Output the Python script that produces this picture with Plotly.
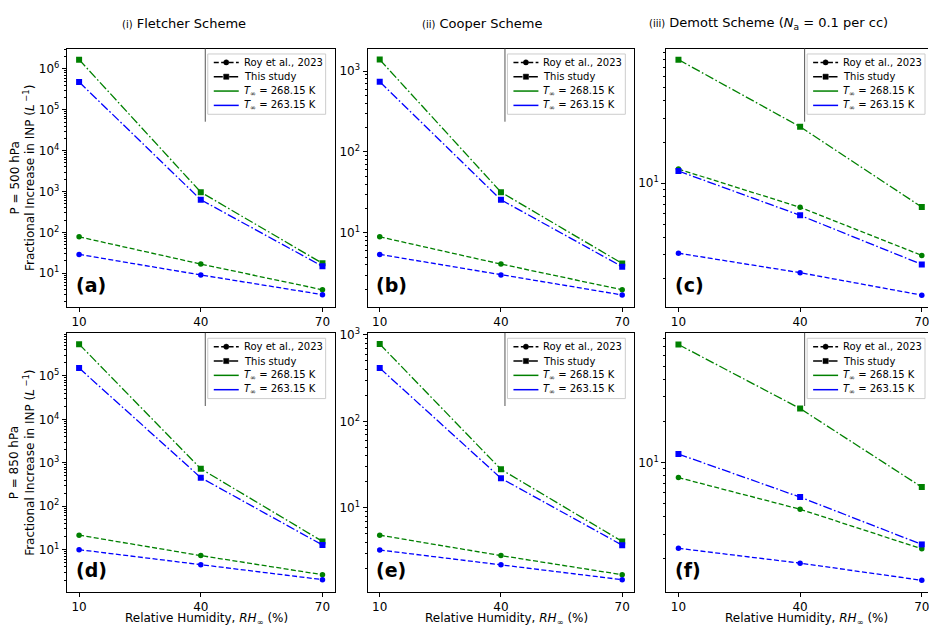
import math
import plotly.graph_objects as go

# ---------------- data ----------------
rh = [10, 40, 70]

a_roy_268 = [78, 16.8, 3.95]
a_roy_263 = [29, 9.1, 3.0]
a_this_268 = [1.69e6, 966, 17.5]
a_this_263 = [4.8e5, 630, 14.8]

b_roy_268 = [8.9, 4.1, 1.97]
b_roy_263 = [5.4, 3.0, 1.7]
b_this_268 = [1390, 31.8, 4.17]
b_this_263 = [740, 25.6, 3.8]

c_roy_268 = [12.7, 6.67, 2.97]
c_roy_263 = [3.08, 2.22, 1.52]
c_this_268 = [80.2, 25.9, 6.7]
c_this_263 = [12.3, 5.83, 2.55]

d_roy_268 = [21.6, 7.3, 2.65]
d_roy_263 = [10.0, 4.5, 2.04]
d_this_268 = [5.4e5, 730, 15.5]
d_this_263 = [1.52e5, 455, 12.8]

e_roy_268 = [4.84, 2.81, 1.69]
e_roy_263 = [3.26, 2.20, 1.48]
e_this_268 = [783, 27.9, 4.09]
e_this_263 = [413, 22.0, 3.71]

f_roy_268 = [7.74, 4.55, 2.34]
f_roy_263 = [2.36, 1.84, 1.38]
f_this_268 = [72.4, 24.7, 6.6]
f_this_263 = [11.5, 5.58, 2.52]

x_ticks = [10, 40, 70]
col_titles = ["<span style='font-size:10px'>(i)</span> Fletcher Scheme",
              "<span style='font-size:10px'>(ii)</span> Cooper Scheme",
              "<span style='font-size:10px'>(iii)</span> Demott Scheme (<i>N</i><sub>a</sub> = 0.1 per cc)"]
row_titles = ["P = 500 hPa<br>Fractional Increase in INP (<i>L</i><sup> \u22121</sup>)",
              "P = 850 hPa<br>Fractional Increase in INP (<i>L</i><sup> \u22121</sup>)"]
panel_labels = ["(a)", "(b)", "(c)", "(d)", "(e)", "(f)"]
legend_names = ["Roy et al., 2023", "This study",
                "<i>T</i><sub>\u221e</sub> = 268.15 K", "<i>T</i><sub>\u221e</sub> = 263.15 K"]
x_title = "Relative Humidity, <i>RH</i><sub>\u221e</sub> (%)"

# ---------------- layout geometry ----------------
W, H = 929, 629
FONT = "DejaVu Sans"
GREEN, BLUE = "green", "blue"
DASH = "5px,2.4px"
DASHDOT = "9px,2.4px,1.6px,2.4px"

col_left = [67, 368, 667]
col_right = [335, 635, 929]
col_right_full = [335, 635, 935]
row_top = [42, 329.5]
row_bot = [303, 591.5]
x_ranges = [[7, 73], [7, 73], [7, 71.53]]
y_ranges = [[0.184, 6.5], [0.086, 3.28], [0.098, 1.9855],
            [0.027, 5.993], [0.029, 3.023], [0.055, 1.945]]
major = [[1e1, 1e2, 1e3, 1e4, 1e5, 1e6], [1e1, 1e2, 1e3], [1e1],
         [1e1, 1e2, 1e3, 1e4, 1e5], [1e1, 1e2, 1e3], [1e1]]

panel_data = [
    (a_roy_268, a_roy_263, a_this_268, a_this_263),
    (b_roy_268, b_roy_263, b_this_268, b_this_263),
    (c_roy_268, c_roy_263, c_this_268, c_this_263),
    (d_roy_268, d_roy_263, d_this_268, d_this_263),
    (e_roy_268, e_roy_263, e_this_268, e_this_263),
    (f_roy_268, f_roy_263, f_this_268, f_this_263),
]

minor_vals = [m * 10 ** k for k in range(-1, 8) for m in range(2, 10)]


def fx(px):
    return px / W


def fy(py):
    return 1 - py / H


def sup(v):
    return "10<sup>%d</sup>" % round(math.log10(v))


fig = go.Figure()
annotations = []
shapes = []

LEG_W, LEG_H = 118, 61
LEG_ROW0, LEG_DY = 8.5, 14.5
legend_styles = [
    ("black", DASH, "circle"),
    ("black", DASHDOT, "rect"),
    (GREEN, None, None),
    (BLUE, None, None),
]


def add_legend(L, T):
    shapes.append(dict(type="rect", xref="paper", yref="paper", layer="above",
                       x0=fx(L), x1=fx(L + LEG_W), y0=fy(T), y1=fy(T + LEG_H),
                       fillcolor="rgba(255,255,255,0.85)",
                       line=dict(color="#cccccc", width=1)))
    for k, (name, (colr, dsh, mk)) in enumerate(zip(legend_names, legend_styles)):
        yc = T + LEG_ROW0 + LEG_DY * k
        ln = dict(color=colr, width=1.5)
        if dsh:
            ln["dash"] = dsh
        shapes.append(dict(type="line", xref="paper", yref="paper", layer="above",
                           x0=fx(L + 6), x1=fx(L + 31), y0=fy(yc), y1=fy(yc), line=ln))
        if mk:
            s = 2.6
            shapes.append(dict(type=mk, xref="paper", yref="paper", layer="above",
                               x0=fx(L + 18.5 - s), x1=fx(L + 18.5 + s),
                               y0=fy(yc - s), y1=fy(yc + s),
                               fillcolor="black", line=dict(color="black", width=0.5)))
        annotations.append(dict(text=name, xref="paper", yref="paper",
                                x=fx(L + 34), y=fy(yc), xanchor="left", yanchor="middle",
                                showarrow=False,
                                font=dict(family=FONT, size=10, color="black")))


for i in range(6):
    r, c = divmod(i, 3)
    n = i + 1
    xa = "x" if n == 1 else "x%d" % n
    ya = "y" if n == 1 else "y%d" % n
    roy268, roy263, this268, this263 = panel_data[i]

    series = [
        (roy268, GREEN, DASH, "circle", 5.5),
        (this268, GREEN, DASHDOT, "square", 6),
        (roy263, BLUE, DASH, "circle", 5.5),
        (this263, BLUE, DASHDOT, "square", 6),
    ]
    for vals, colr, dsh, sym, ms in series:
        fig.add_trace(go.Scatter(
            x=rh, y=vals, mode="lines+markers", xaxis=xa, yaxis=ya,
            line=dict(color=colr, width=1.3, dash=dsh),
            marker=dict(color=colr, symbol=sym, size=ms),
            showlegend=False, hoverinfo="skip"))

    xkey = "xaxis" if n == 1 else "xaxis%d" % n
    ykey = "yaxis" if n == 1 else "yaxis%d" % n
    fig.layout[xkey] = dict(
        domain=[fx(col_left[c]), fx(col_right[c])], anchor=ya,
        range=x_ranges[c], tickmode="array", tickvals=x_ticks,
        ticktext=[str(t) for t in x_ticks], ticklabeloverflow="allow",
        showline=True, linecolor="black", linewidth=1.2, mirror=True,
        ticks="outside", ticklen=4, tickwidth=1, tickcolor="black",
        showgrid=False, zeroline=False, fixedrange=True,
        tickfont=dict(family=FONT, size=12, color="black"))
    fig.layout[ykey] = dict(
        domain=[fy(row_bot[r]), fy(row_top[r])], anchor=xa,
        type="log", range=y_ranges[i], tickmode="array", tickvals=major[i],
        ticktext=[sup(v) for v in major[i]], ticklabeloverflow="allow",
        showline=True, linecolor="black", linewidth=1.2, mirror=(c != 2),
        ticks="outside", ticklen=4, tickwidth=1, tickcolor="black",
        minor=dict(tickmode="array", tickvals=minor_vals, ticks="outside",
                   ticklen=2, tickwidth=0.8, tickcolor="black", showgrid=False),
        showgrid=False, zeroline=False, fixedrange=True,
        tickfont=dict(family=FONT, size=12, color="black"))

    L = col_right_full[c] - 9 - LEG_W
    T = row_top[r] + 5.5
    # faint frame edge visible just left of each legend in the original
    shapes.append(dict(type="line", xref="paper", yref="paper", layer="above",
                       x0=fx(L - 2.5), x1=fx(L - 2.5), y0=fy(row_top[r]),
                       y1=fy(row_top[r] + 74), line=dict(color="#555555", width=1)))
    add_legend(L, T)

    annotations.append(dict(
        text="<b>%s</b>" % panel_labels[i], xref=xa + " domain", yref=ya + " domain",
        x=0.025, y=0.035, xanchor="left", yanchor="bottom", showarrow=False,
        font=dict(family=FONT, size=19, color="black")))

title_x = [120, 420, 648]
for c in range(3):
    annotations.append(dict(text=col_titles[c], xref="paper", yref="paper",
                            x=fx(title_x[c]), y=fy(17), xanchor="left", yanchor="middle",
                            showarrow=False, font=dict(family=FONT, size=13, color="black")))

for r in range(2):
    annotations.append(dict(text=row_titles[r], xref="paper", yref="paper",
                            x=fx(22.5), y=fy((row_top[r] + row_bot[r]) / 2),
                            xanchor="center", yanchor="middle", textangle=-90,
                            showarrow=False,
                            font=dict(family=FONT, size=12, color="black")))

for c in range(3):
    cx = (col_left[c] + col_right_full[c]) / 2 + 6
    annotations.append(dict(text=x_title, xref="paper", yref="paper",
                            x=fx(cx), y=fy(619), xanchor="center", yanchor="middle",
                            showarrow=False, font=dict(family=FONT, size=12, color="black")))

fig.update_layout(
    width=W, height=H, margin=dict(l=0, r=0, t=0, b=0),
    paper_bgcolor="white", plot_bgcolor="white", showlegend=False,
    font=dict(family=FONT, size=12, color="black"),
    annotations=annotations, shapes=shapes)

fig.write_html("out.html", config={"displayModeBar": False},
               post_script="document.body.style.margin='0';document.body.style.overflow='hidden';")
